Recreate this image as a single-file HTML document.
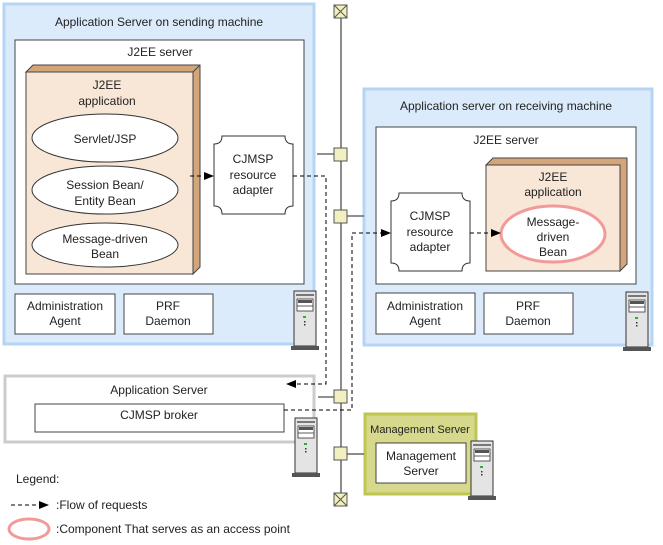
<!DOCTYPE html>
<html><head><meta charset="utf-8"><style>body{margin:0;background:#fff}svg{display:block}text{font-family:"Liberation Sans",sans-serif;font-size:12px;fill:#222}</style></head><body>
<svg width="663" height="545" viewBox="0 0 663 545" xmlns="http://www.w3.org/2000/svg">
<defs>
<marker id="ar" markerWidth="10" markerHeight="8" refX="9" refY="4" orient="auto" markerUnits="userSpaceOnUse"><path d="M0,0 L10,4 L0,8z" fill="#000"/></marker>
<g id="srv">
<rect x="1" y="0" width="22" height="55" fill="#e4e4e4" stroke="#333" stroke-width="1"/>
<rect x="3" y="3" width="18" height="2" fill="#777"/>
<rect x="4" y="8" width="16" height="12" fill="#fff" stroke="#333" stroke-width=".8"/>
<rect x="5" y="9" width="14" height="3" fill="#555"/>
<line x1="4" y1="15" x2="20" y2="15" stroke="#333" stroke-width=".8"/>
<rect x="10" y="25" width="3" height="2" fill="#3a3"/>
<rect x="11" y="30" width="1.5" height="1.5" fill="#333"/><rect x="11" y="33" width="1.5" height="1.5" fill="#333"/>
<rect x="-2" y="55" width="28" height="4" fill="#555"/>
</g>
<g id="ada"><path d="M8,0 H71 Q71,8 79,8 V70 Q71,70 71,78 H8 Q8,70 0,70 V8 Q8,8 8,0z" fill="#fff" stroke="#333"/></g>
</defs>
<!-- sending -->
<rect x="4" y="4" width="310" height="340" fill="#dcebfb" stroke="#b4d5f5" stroke-width="3"/>
<text x="159" y="26" text-anchor="middle">Application Server on sending machine</text>
<rect x="15" y="40" width="289" height="244" fill="#fff" stroke="#444"/>
<text x="160" y="56" text-anchor="middle">J2EE server</text>
<path d="M26,72 L33,65 L200,65 L200,267 L193,274 L193,72z" fill="#d4a47a" stroke="#444"/>
<line x1="193" y1="72" x2="200" y2="65" stroke="#444"/>
<rect x="26" y="72" width="167" height="202" fill="#f8e6d6" stroke="#444"/>
<text x="107" y="89" text-anchor="middle">J2EE</text><text x="107" y="105" text-anchor="middle">application</text>
<ellipse cx="105" cy="138" rx="73" ry="24" fill="#fff" stroke="#333"/>
<text x="105" y="143" text-anchor="middle">Servlet/JSP</text>
<ellipse cx="105" cy="190" rx="73" ry="24" fill="#fff" stroke="#333"/>
<text x="105" y="189" text-anchor="middle">Session Bean/</text><text x="105" y="205" text-anchor="middle">Entity Bean</text>
<ellipse cx="105" cy="245" rx="73" ry="22" fill="#fff" stroke="#333"/>
<text x="105" y="243" text-anchor="middle">Message-driven</text><text x="105" y="258" text-anchor="middle">Bean</text>
<use href="#ada" x="214" y="136"/>
<text x="253" y="163" text-anchor="middle">CJMSP</text><text x="253" y="179" text-anchor="middle">resource</text><text x="253" y="194" text-anchor="middle">adapter</text>
<rect x="15" y="294" width="100" height="40" fill="#fff" stroke="#444"/>
<text x="65" y="310" text-anchor="middle">Administration</text><text x="65" y="325" text-anchor="middle">Agent</text>
<rect x="124" y="294" width="89" height="40" fill="#fff" stroke="#444"/>
<text x="168" y="310" text-anchor="middle">PRF</text><text x="168" y="325" text-anchor="middle">Daemon</text>
<!-- receiving -->
<rect x="364" y="89" width="288" height="256" fill="#dcebfb" stroke="#b4d5f5" stroke-width="3"/>
<text x="506" y="110" text-anchor="middle">Application server on receiving machine</text>
<rect x="376" y="127" width="260" height="157" fill="#fff" stroke="#444"/>
<text x="506" y="144" text-anchor="middle">J2EE server</text>
<path d="M486,165 L493,158 L627,158 L627,264 L620,271 L620,165z" fill="#d4a47a" stroke="#444"/>
<rect x="486" y="165" width="134" height="106" fill="#f8e6d6" stroke="#444"/>
<text x="553" y="181" text-anchor="middle">J2EE</text><text x="553" y="196" text-anchor="middle">application</text>
<ellipse cx="553" cy="234" rx="52" ry="28" fill="#fff" stroke="#f29a9a" stroke-width="3"/>
<text x="553" y="226" text-anchor="middle">Message-</text><text x="553" y="241" text-anchor="middle">driven</text><text x="553" y="256" text-anchor="middle">Bean</text>
<use href="#ada" x="391" y="193"/>
<text x="430" y="220" text-anchor="middle">CJMSP</text><text x="430" y="236" text-anchor="middle">resource</text><text x="430" y="251" text-anchor="middle">adapter</text>
<rect x="376" y="293" width="99" height="41" fill="#fff" stroke="#444"/>
<text x="425" y="310" text-anchor="middle">Administration</text><text x="425" y="325" text-anchor="middle">Agent</text>
<rect x="484" y="293" width="89" height="41" fill="#fff" stroke="#444"/>
<text x="528" y="310" text-anchor="middle">PRF</text><text x="528" y="325" text-anchor="middle">Daemon</text>
<!-- app server -->
<rect x="5" y="376" width="309" height="66" fill="#fff" stroke="#ccc" stroke-width="3"/>
<text x="159" y="394" text-anchor="middle">Application Server</text>
<rect x="35" y="404" width="249" height="28" fill="#fff" stroke="#444"/>
<text x="159" y="419" text-anchor="middle">CJMSP broker</text>
<!-- management -->
<rect x="365" y="414" width="111" height="80" fill="#d6d98c" stroke="#c0c450" stroke-width="3"/>
<text x="420" y="433" text-anchor="middle" style="font-size:11px">Management Server</text>
<rect x="376" y="443" width="90" height="40" fill="#fff" stroke="#444"/>
<text x="421" y="460" text-anchor="middle">Management</text><text x="421" y="475" text-anchor="middle">Server</text>
<!-- bus -->
<line x1="341" y1="12" x2="341" y2="500" stroke="#666" stroke-width="1.5"/>
<line x1="317" y1="154" x2="334" y2="154" stroke="#222"/>
<line x1="347" y1="216" x2="364" y2="216" stroke="#222"/>
<line x1="318" y1="397" x2="334" y2="397" stroke="#222"/>
<line x1="347" y1="454" x2="364" y2="454" stroke="#666" stroke-width="1.5"/>
<g fill="#f2f0c0" stroke="#555">
<rect x="334" y="148" width="13" height="13"/><rect x="334" y="210" width="13" height="13"/>
<rect x="334" y="390" width="13" height="13"/><rect x="334" y="447" width="13" height="13"/>
<rect x="334" y="5" width="13" height="13"/><path d="M334,5 L347,18 M347,5 L334,18"/>
<rect x="334" y="493" width="13" height="13"/><path d="M334,493 L347,506 M347,493 L334,506"/>
</g>
<!-- dashed flows -->
<g fill="none" stroke="#000" stroke-dasharray="4,3">
<line x1="190" y1="176" x2="213" y2="176" marker-end="url(#ar)"/>
<polyline points="293,176 326,176 326,384 287,384" marker-end="url(#ar)"/>
<polyline points="284,410 352,410 352,233 390,233" marker-end="url(#ar)"/>
<line x1="470" y1="233" x2="500" y2="233" marker-end="url(#ar)"/>
<line x1="11" y1="505" x2="48" y2="505" marker-end="url(#ar)"/>
</g>
<use href="#srv" x="293" y="291"/>
<use href="#srv" x="625" y="292"/>
<use href="#srv" x="294" y="418"/>
<use href="#srv" x="470" y="441"/>
<!-- legend -->
<text x="16" y="483">Legend:</text>
<text x="56" y="509">:Flow of requests</text>
<ellipse cx="29" cy="529" rx="20" ry="10" fill="#fff" stroke="#f29a9a" stroke-width="3"/>
<text x="56" y="533">:Component That serves as an access point</text>
</svg>
</body></html>
